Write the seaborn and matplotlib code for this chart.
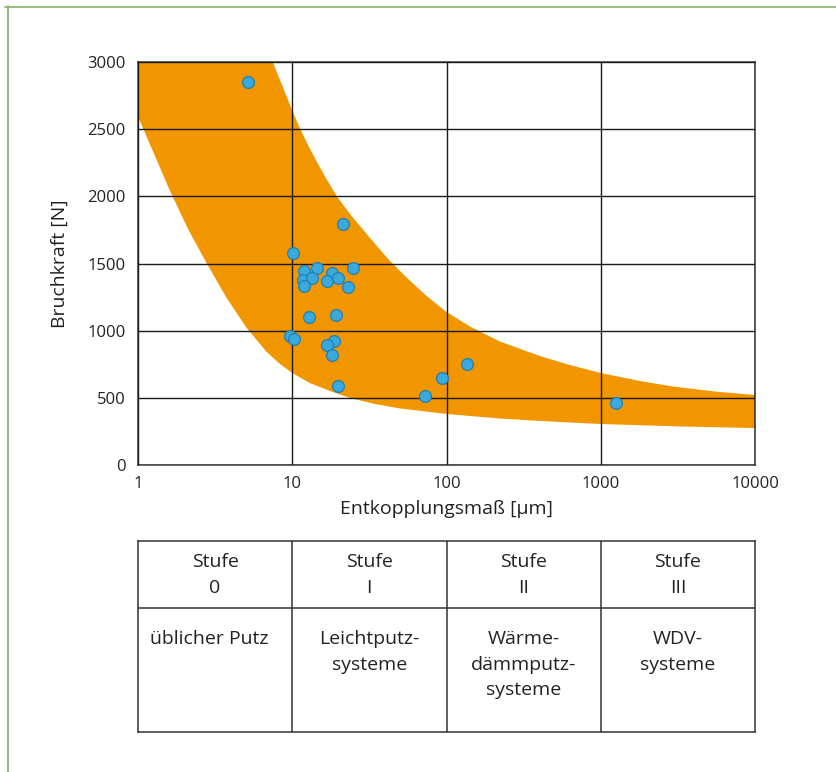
import numpy as np
import pandas as pd
import matplotlib
matplotlib.use("Agg")
import matplotlib.pyplot as plt
from matplotlib.lines import Line2D
import seaborn as sns

# Measured break force against decoupling width
entkopplung = [5.2, 10.1, 12.0, 14.4, 24.9, 18.2, 11.8, 13.4, 12.0, 16.9, 19.7, 22.9,
               21.2, 12.9, 19.1, 9.7, 10.3, 18.7, 16.9, 18.2, 19.7, 72.5, 93.0, 136.0, 1262.0]
bruchkraft = [2850, 1580, 1445, 1465, 1465, 1430, 1380, 1390, 1335, 1370, 1390, 1325,
              1795, 1105, 1120, 960, 935, 925, 895, 820, 590, 515, 650, 755, 460]

# Scatter band: upper and lower boundary
band_oben_x = [1, 7.47, 8.33, 9.25, 10.1, 11.1, 12.65, 14.4, 16.8, 19.6, 23.7, 28.9, 34.9,
               43, 56.3, 74.3, 100, 142, 222, 404, 632, 1000, 1797, 2940, 5505, 10000]
band_oben_y = [3000, 3000, 2866, 2736, 2628, 2516, 2382, 2259, 2122, 1995, 1868, 1749, 1638,
               1519, 1385, 1258, 1139, 1031, 919, 811, 744, 685, 625, 584, 547, 521]
band_unten_x = [1, 1.289, 1.613, 2.11, 2.76, 3.72, 5.067, 6.83, 8.33, 10.0, 13.03, 17.57,
                23.68, 34.4, 50, 100, 222, 404, 1000, 3265, 10000]
band_unten_y = [2593, 2300, 2040, 1757, 1511, 1251, 1020, 841, 752, 685, 610, 551,
                499, 454, 421, 380, 346, 328, 305, 287, 275]

x_ticks = [1, 10, 100, 1000, 10000]
x_ticklabels = ["1", "10", "100", "1000", "10000"]
y_ticks = [0, 500, 1000, 1500, 2000, 2500, 3000]

stufen_kopf = ["Stufe\n0", "Stufe\nI", "Stufe\nII", "Stufe\nIII"]
stufen_text = ["üblicher Putz", "Leichtputz-\nsysteme", "Wärme-\ndämmputz-\nsysteme", "WDV-\nsysteme"]

sns.set_theme(style="white")
plt.rcParams["font.family"] = ["Open Sans", "DejaVu Sans"]

W, H = 836, 772
fig = plt.figure(figsize=(W / 100, H / 100), dpi=100)

def rect(l, t, r, b):
    return [l / W, 1 - b / H, (r - l) / W, (b - t) / H]

ax = fig.add_axes(rect(138, 62, 755, 465))
ax.set_xscale("log")
ax.set_xlim(1, 10000)
ax.set_ylim(0, 3000)

poly_x = np.concatenate([band_oben_x, band_unten_x[::-1]])
poly_y = np.concatenate([band_oben_y, band_unten_y[::-1]])
ax.fill(poly_x, poly_y, color="#F29600", lw=0, zorder=1)

df = pd.DataFrame({"x": entkopplung, "y": bruchkraft})
sns.scatterplot(data=df, x="x", y="y", ax=ax, s=72, color="#3AA9DD",
                edgecolor="#1F7FB5", linewidth=0.9, zorder=4)

ax.set_xticks(x_ticks)
ax.set_xticklabels(x_ticklabels)
ax.xaxis.set_minor_locator(matplotlib.ticker.NullLocator())
ax.set_yticks(y_ticks)
ax.tick_params(axis="both", length=0, labelsize=12, colors="#222222")
ax.tick_params(axis="y", pad=9)
ax.tick_params(axis="x", pad=8)
ax.grid(True, which="major", color="#1a1a1a", lw=1.0, zorder=2)
ax.set_axisbelow(False)
for sp in ax.spines.values():
    sp.set_color("#333333")
    sp.set_linewidth(1.1)
ax.set_xlabel("Entkopplungsmaß [µm]", fontsize=14, color="#222222", labelpad=6)
ax.set_ylabel("Bruchkraft [N]", fontsize=14, color="#222222", labelpad=13)

# Classification table below the chart
tab = fig.add_axes(rect(138, 541, 755, 732))
tab.set_xlim(0, 4)
tab.set_ylim(0, 1)
tab.set_xticks([])
tab.set_yticks([])
for sp in tab.spines.values():
    sp.set_color("#333333")
    sp.set_linewidth(1.1)
row_split = 1 - (608 - 541) / (732 - 541)
tab.axhline(row_split, color="#333333", lw=1.1)
for i in range(1, 4):
    tab.axvline(i, color="#333333", lw=1.1)
for i, (kopf, txt) in enumerate(zip(stufen_kopf, stufen_text)):
    tab.text(i + 0.5, 1 - (575 - 541) / 191, kopf, ha="center", va="center",
             fontsize=14, color="#222222", linespacing=1.55)
    tab.text(i + 0.5 - (0.04 if i == 0 else 0), 1 - (630 - 541) / 191, txt,
             ha="center", va="top", fontsize=14, color="#222222", linespacing=1.55)

# Frame lines on top and left of the figure
green = "#8DB873"
fig.add_artist(Line2D([5 / W, 1], [1 - 7 / H, 1 - 7 / H], color=green, lw=1.3))
fig.add_artist(Line2D([7.5 / W, 7.5 / W], [0, 1 - 6 / H], color=green, lw=1.3))

fig.savefig("out.png", dpi=100)
